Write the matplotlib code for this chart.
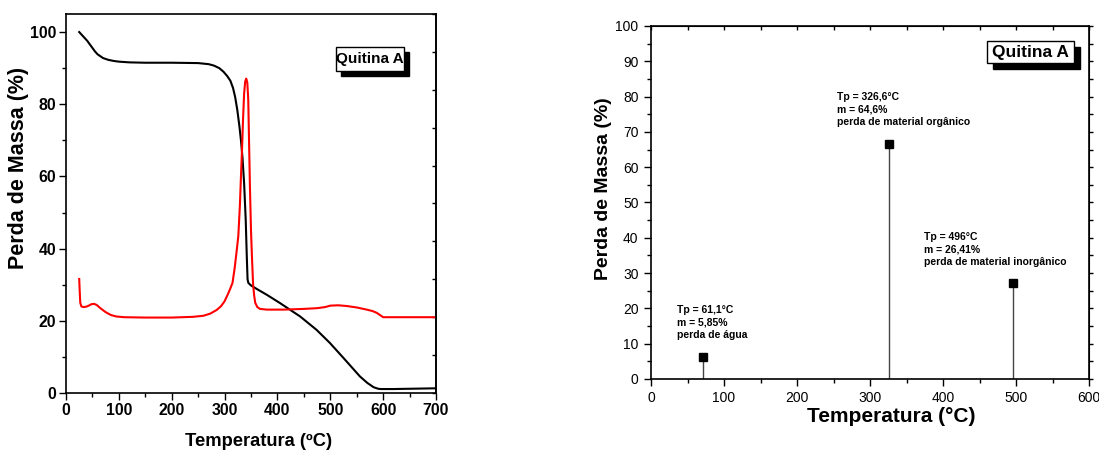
#!/usr/bin/env python3

import matplotlib
matplotlib.use('Agg')
import matplotlib.pyplot as plt
from matplotlib import font_manager
from matplotlib.patches import Rectangle
from matplotlib.ticker import MultipleLocator, NullFormatter

# TG curve (black) and DTG curve (red) for Quitina A
tg_temp = [25, 30, 35, 40, 45, 50, 55, 60, 65, 70, 80, 90, 100, 120, 150, 200, 250,
           270, 280, 290, 298, 305, 311, 316, 320, 324, 328, 331, 334, 337, 340, 342,
           343.5, 345, 350, 360, 380, 405, 443, 474, 499, 525, 556, 570, 582, 590,
           595, 620, 700]
tg_mass = [100, 99.2, 98.4, 97.6, 96.6, 95.6, 94.6, 93.8, 93.3, 92.8, 92.3, 92.0, 91.8,
           91.6, 91.5, 91.5, 91.4, 91.1, 90.7, 90.0, 89.0, 87.8, 86.5, 84.5, 82.0, 78.5,
           74.0, 70.0, 65.0, 58.0, 48.0, 38.0, 31.5, 30.5, 29.8, 28.9, 27.2, 24.9, 21.2,
           17.5, 13.9, 9.7, 4.6, 2.8, 1.6, 1.2, 1.1, 1.1, 1.3]

dtg_temp = [25, 26, 27, 29, 33, 38, 43, 48, 53, 58, 65, 75, 85, 95, 110, 150, 200, 240,
            260, 273, 285, 293, 300, 307, 311, 315, 319, 323, 326, 329, 331, 333, 335,
            337, 339, 341, 343, 344.8, 346, 348, 350, 352, 354, 356, 358, 362, 367, 380,
            411, 450, 475, 490, 500, 515, 531, 550, 569, 580, 588, 595, 600, 620, 700]
dtg_val = [31.6, 28.0, 25.0, 24.0, 23.8, 23.9, 24.2, 24.6, 24.7, 24.4, 23.5, 22.4, 21.6,
           21.2, 21.0, 20.9, 20.9, 21.1, 21.4, 22.0, 23.0, 24.0, 25.4, 27.6, 29.0, 30.5,
           34.5, 39.5, 43.5, 52.0, 60.0, 67.4, 76.0, 83.0, 86.3, 87.1, 86.0, 81.3, 72.0,
           57.0, 45.0, 37.0, 30.0, 27.0, 25.0, 23.8, 23.3, 23.1, 23.1, 23.3, 23.5, 23.8,
           24.2, 24.3, 24.1, 23.7, 23.1, 22.7, 22.2, 21.5, 21.0, 21.0, 21.0]

# Peak summary (right panel)
peak_temp = [71, 326, 496]
peak_mass = [6.1, 66.6, 27.3]
peak_labels = ['Tp = 61,1°C\nm = 5,85%\nperda de água',
               'Tp = 326,6°C\nm = 64,6%\nperda de material orgânico',
               'Tp = 496°C\nm = 26,41%\nperda de material inorgânico']
label_pos = [(36, 21.0), (255, 81.2), (374, 41.6)]

SANS = ['Liberation Sans', 'DejaVu Sans']
installed = {f.name for f in font_manager.fontManager.ttflist}
if 'Liberation Sans Narrow' in installed:
    NARROW = ['Liberation Sans Narrow'] + SANS
    nscale = 1.0
else:
    NARROW = SANS
    nscale = 0.88

W, H = 1099, 450
fig = plt.figure(figsize=(W / 100, H / 100), dpi=100)


def px_rect(x0, y0, x1, y1):
    # pixel box (top-left origin) -> figure fraction [l, b, w, h]
    return [x0 / W, 1 - y1 / H, (x1 - x0) / W, (y1 - y0) / H]


def shadow_box(x0, y0, x1, y1, off, text, fam, size):
    l, b, w, h = px_rect(x0 + off, y0 + off, x1 + off, y1 + off)
    fig.add_artist(Rectangle((l, b), w, h, transform=fig.transFigure,
                             facecolor='black', edgecolor='black', zorder=5))
    l, b, w, h = px_rect(x0, y0, x1, y1)
    fig.add_artist(Rectangle((l, b), w, h, transform=fig.transFigure,
                             facecolor='white', edgecolor='black', lw=1, zorder=6))
    fig.text(l + w / 2, b + h / 2, text, ha='center', va='center', family=fam,
             fontsize=size, fontweight='bold', zorder=7)


# ---- left panel: TG / DTG curves
ax1 = fig.add_axes(px_rect(66, 14, 436, 393))
ax1.plot(tg_temp, tg_mass, color='black', lw=1.5)
ax1.plot(dtg_temp, dtg_val, color='red', lw=1.5)
ax1.set_xlim(0, 700)
ax1.set_ylim(0, 105)
ax1.xaxis.set_major_locator(MultipleLocator(100))
ax1.xaxis.set_minor_locator(MultipleLocator(50))
ax1.yaxis.set_major_locator(MultipleLocator(20))
ax1.yaxis.set_minor_locator(MultipleLocator(10))
ax1.tick_params(which='both', direction='out', top=False, right=False, width=1)
ax1.tick_params(which='major', length=5, pad=2)
ax1.tick_params(which='minor', length=3)
for lab in ax1.get_xticklabels() + ax1.get_yticklabels():
    lab.set_family(NARROW)
    lab.set_fontweight('bold')
    lab.set_fontsize(13 * nscale)
for sp in ax1.spines.values():
    sp.set_linewidth(1.2)

# right-hand DTG scale: 0-100 over the full height, ticks only
ax1r = ax1.secondary_yaxis('right', functions=(lambda v: v * 100 / 105,
                                                lambda v: v * 105 / 100))
ax1r.yaxis.set_major_locator(MultipleLocator(10))
ax1r.yaxis.set_major_formatter(NullFormatter())
ax1r.tick_params(direction='in', length=3, width=1)
ax1r.spines['right'].set_linewidth(1.2)

ax1.set_ylabel('Perda de Massa (%)', family=SANS, fontweight='bold', fontsize=15.5)
ax1.yaxis.set_label_coords(-0.099, 0.595)
ax1.set_xlabel('Temperatura (ºC)', family=NARROW, fontweight='bold',
               fontsize=15 * nscale, va='top')
ax1.xaxis.set_label_coords(0.52, -0.106)

shadow_box(336, 47, 404, 71, 5, 'Quitina A', NARROW, 12.5 * nscale)

# ---- right panel: peak summary
ax2 = fig.add_axes(px_rect(651, 26, 1089, 379))
ax2.vlines(peak_temp, 0, peak_mass, color='#444444', lw=1)
ax2.plot(peak_temp, peak_mass, 's', color='black', ms=5.5, zorder=4)
for (tx, ty), txt in zip(label_pos, peak_labels):
    ax2.text(tx, ty, txt, ha='left', va='top', family=SANS, fontweight='bold',
             fontsize=7.5, linespacing=1.3)
ax2.set_xlim(0, 600)
ax2.set_ylim(0, 100)
ax2.xaxis.set_major_locator(MultipleLocator(100))
ax2.xaxis.set_minor_locator(MultipleLocator(50))
ax2.yaxis.set_major_locator(MultipleLocator(10))
ax2.yaxis.set_minor_locator(MultipleLocator(5))
ax2.tick_params(which='both', direction='out', width=1, labelsize=10,
                top=False, right=False)
ax2.tick_params(which='major', length=5, pad=4)
ax2.tick_params(which='minor', length=3)
for lab in ax2.get_xticklabels() + ax2.get_yticklabels():
    lab.set_family(SANS)
for sp in ax2.spines.values():
    sp.set_linewidth(1.2)

ax2t = ax2.secondary_xaxis('top')
ax2t.xaxis.set_major_locator(MultipleLocator(50))
ax2t.xaxis.set_major_formatter(NullFormatter())
ax2t.tick_params(direction='in', length=3, width=1)
ax2r = ax2.secondary_yaxis('right')
ax2r.yaxis.set_major_locator(MultipleLocator(5))
ax2r.yaxis.set_major_formatter(NullFormatter())
ax2r.tick_params(direction='out', length=3, width=1)

ax2.set_ylabel('Perda de Massa (%)', family=SANS, fontweight='bold', fontsize=14)
ax2.yaxis.set_label_coords(-0.09, 0.538)
ax2.set_xlabel('Temperatura (°C)', family=SANS, fontweight='bold', fontsize=15,
               va='top')
ax2.xaxis.set_label_coords(0.549, -0.08)

shadow_box(987, 41, 1074, 63, 6, 'Quitina A', SANS, 12.5)

fig.savefig('out.png', dpi=100)
